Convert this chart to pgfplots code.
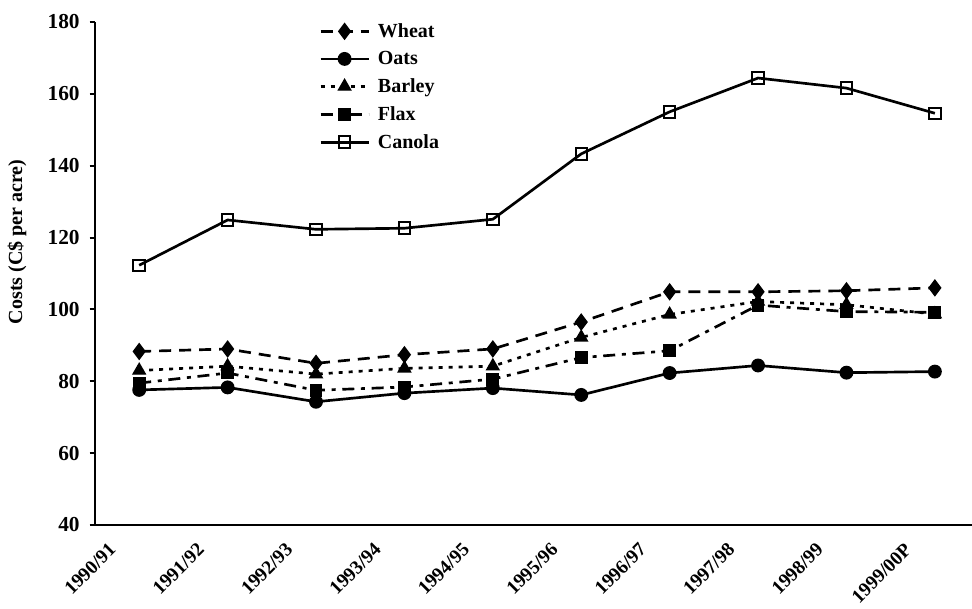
\documentclass[border=0pt]{standalone}
\usepackage{pgfplots}
\pgfplotsset{compat=1.18}
\usepackage{fontspec}
\setmainfont{Liberation Serif}

\begin{document}
\begin{tikzpicture}
% page size taken from the reference layout (1px = 0.75pt)
\useasboundingbox (-71.25pt,-62.25pt) rectangle (657.75pt,393.75pt);
\begin{axis}[
    at={(0,0)}, anchor=south west,
    scale only axis,
    width=657.75pt, height=377.25pt,
    xmin=-0.5, xmax=9.42,
    ymin=40, ymax=180,
    ytick={40,60,...,180},
    xtick={0,...,9},
    xticklabels={1990/91,1991/92,1992/93,1993/94,1994/95,1995/96,1996/97,1997/98,1998/99,1999/00P},
    x tick label style={xshift=-20pt, yshift=-12pt, rotate=45, anchor=east,
        font=\bfseries\fontsize{14.5}{14.5}\selectfont, inner sep=0pt},
    y tick label style={font=\bfseries\fontsize{16}{16}\selectfont, xshift=-4pt},
    /pgf/number format/assume math mode=true,
    axis lines*=left,
    axis line style={line width=1.5pt, -},
    xtick style={draw=none},
    ytick style={line width=1.5pt, black},
    tick align=outside,
    major tick length=4pt,
    ylabel={\bfseries Costs (C\$ per acre)},
    ylabel style={font=\fontsize{15}{15}\selectfont, at={(ticklabel cs:0.563,9pt)}},
    legend style={at={(0.2554,1.003)}, anchor=north west, draw=none, fill=none,
        font=\bfseries\fontsize{15}{15}\selectfont, row sep=5pt, inner sep=0pt},
    legend cell align=left,
    legend image code/.code={
        \draw[mark repeat=2, mark phase=2] plot coordinates {(0pt,0pt)(18pt,0pt)(36pt,0pt)};
        \path (40pt,0pt);
    },
    every axis plot/.append style={line width=2pt, black},
    mark size=4.5pt,
]

\addplot[dash pattern=on 9pt off 6pt, mark=diamond*, mark size=5.8pt, mark options={solid, line width=1pt}]
coordinates {(0,88.3)(1,89)(2,85)(3,87.4)(4,89)(5,96.5)(6,104.9)(7,104.9)(8,105.2)(9,106)};
\addlegendentry{Wheat}

\addplot[solid, mark=*, mark size=4.7pt, mark options={solid, line width=1pt}]
coordinates {(0,77.6)(1,78.3)(2,74.3)(3,76.7)(4,78.1)(5,76.2)(6,82.3)(7,84.4)(8,82.4)(9,82.7)};
\addlegendentry{Oats}

\addplot[dash pattern=on 3pt off 4.5pt, mark=triangle*, mark size=5.3pt, mark options={solid, line width=1pt}]
coordinates {(0,83)(1,84.2)(2,82)(3,83.6)(4,84.2)(5,92.2)(6,98.6)(7,102.2)(8,101.3)(9,98.7)};
\addlegendentry{Barley}

\addplot[dash pattern=on 9pt off 5pt on 3pt off 5pt, mark=square*, mark size=4.3pt, mark options={solid, line width=1pt}]
coordinates {(0,79.5)(1,82.3)(2,77.5)(3,78.4)(4,80.6)(5,86.6)(6,88.5)(7,101.2)(8,99.4)(9,99.2)};
\addlegendentry{Flax}

\addplot[solid, mark=square, mark size=4.3pt, mark options={solid, fill=white, line width=1.5pt}]
coordinates {(0,112.3)(1,124.9)(2,122.3)(3,122.6)(4,125.1)(5,143.3)(6,155)(7,164.4)(8,161.6)(9,154.6)};
\addlegendentry{Canola}

\end{axis}
\end{tikzpicture}
\end{document}
